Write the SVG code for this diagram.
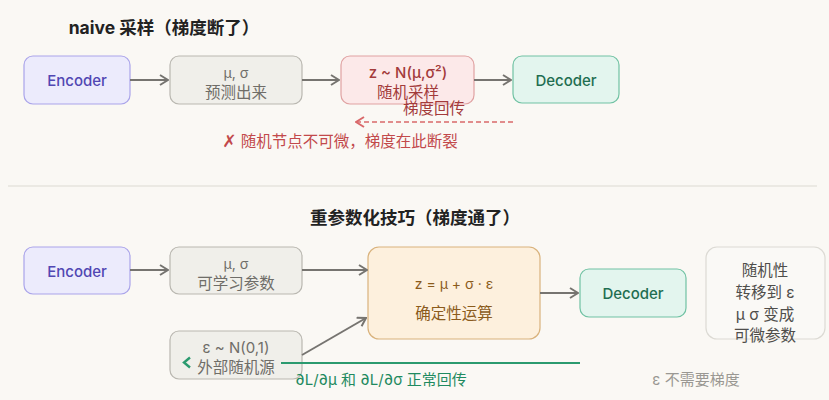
<svg xmlns="http://www.w3.org/2000/svg" width="829" height="400" viewBox="0 0 829 400">
<defs>
<style>
text{font-family:Inter,"Noto Sans CJK SC",sans-serif;font-size:15px;text-anchor:middle;dominant-baseline:central}
.cj{font-size:15.5px}
.title{font-size:17.5px;font-weight:700;fill:#222}
.enc rect{fill:#ecebfc;stroke:#aaa4ea;stroke-width:1.2}
.enc text{fill:#5147b3;font-weight:500}
.par rect{fill:#f0efea;stroke:#b9b7b0;stroke-width:1.2}
.par text{fill:#6f6d68}
.smp rect{fill:#fce9e9;stroke:#e0a2a2;stroke-width:1.2}
.smp text{fill:#a33b3b}
.dec rect{fill:#e3f5ee;stroke:#70c2a3;stroke-width:1.2}
.dec text{fill:#1f6e51;font-weight:500}
.det rect{fill:#fdf0dd;stroke:#d9b27c;stroke-width:1.2}
.det text{fill:#8b5b1c}
.note rect{fill:#faf9f6;stroke:#dcdad4;stroke-width:1.2}
.note text{fill:#4f4e4b;font-size:15.5px}
.arr{fill:none;stroke:#767470;stroke-width:2;marker-end:url(#ah)}
</style>
<marker id="ah" viewBox="0 0 10 12" refX="9" refY="6" markerWidth="10" markerHeight="12" markerUnits="userSpaceOnUse" orient="auto">
<path d="M1,1 L9,6 L1,11" fill="none" stroke="#767470" stroke-width="2"/>
</marker>
<marker id="ahr" viewBox="0 0 10 12" refX="9" refY="6" markerWidth="10" markerHeight="12" markerUnits="userSpaceOnUse" orient="auto">
<path d="M1,1 L9,6 L1,11" fill="none" stroke="#d9686a" stroke-width="2"/>
</marker>
</defs>
<rect width="829" height="400" fill="#faf8f4"/>

<text class="title" x="164" y="27">naive 采样（梯度断了）</text>
<line x1="8" y1="186" x2="817" y2="186" stroke="#ebe9e3" stroke-width="2"/>
<text class="title" x="415" y="217">重参数化技巧（梯度通了）</text>

<g id="enc1" class="enc"><rect x="24" y="56" width="106" height="48" rx="9"/><text x="77" y="80">Encoder</text></g>
<g id="par1" class="par"><rect x="170" y="56" width="132" height="48" rx="9"/><text x="236" y="72" style="font-size:14px">μ, σ</text><text class="cj" x="236" y="92">预测出来</text></g>
<g id="smp1" class="smp"><rect x="341" y="56" width="133" height="48" rx="9"/><text x="408" y="72" style="font-weight:500">z ~ N(μ,σ²)</text><text class="cj" x="408" y="92">随机采样</text></g>
<g id="dec1" class="dec"><rect x="513" y="56" width="106" height="47" rx="9"/><text x="566" y="80">Decoder</text></g>

<g id="enc2" class="enc"><rect x="24" y="247" width="106" height="47" rx="9"/><text x="77" y="271">Encoder</text></g>
<g id="par2" class="par"><rect x="170" y="247" width="132" height="47" rx="9"/><text x="236" y="263" style="font-size:14px">μ, σ</text><text class="cj" x="236" y="283">可学习参数</text></g>
<g id="eps" class="par"><rect x="170" y="331" width="132" height="48" rx="9"/><text x="236" y="347">ε ~ N(0,1)</text><text class="cj" x="236" y="367">外部随机源</text></g>
<g id="det" class="det"><rect x="368" y="247" width="172" height="92" rx="11"/><text x="454" y="283" style="font-size:14px">z = μ + σ · ε</text><text class="cj" x="454" y="313">确定性运算</text></g>
<g id="dec2" class="dec"><rect x="580" y="269" width="106" height="48" rx="9"/><text x="633" y="293">Decoder</text></g>
<g id="note" class="note"><rect x="706" y="247" width="119" height="92" rx="11"/><text x="765" y="270">随机性</text><text x="765" y="292">转移到 ε</text><text x="765" y="314">μ σ 变成</text><text x="765" y="335">可微参数</text></g>

<g id="connectors">
<path class="arr" d="M130,80 H168"/>
<path class="arr" d="M302,80 H339"/>
<path class="arr" d="M474,80 H511"/>
<path d="M513,122 H356" fill="none" stroke="#d9686a" stroke-width="1.6" stroke-dasharray="5,3" marker-end="url(#ahr)"/>
<path class="arr" d="M130,270 H168"/>
<path class="arr" d="M302,270 H367"/>
<path class="arr" d="M302,355 L366,318"/>
<path class="arr" d="M540,293 H578"/>
<path d="M580,363 H281" fill="none" stroke="#2b9a6f" stroke-width="2"/>
<path d="M190,357.5 L184,362.5 L190,367.5" fill="none" stroke="#2b9a6f" stroke-width="2.4"/>
</g>

<text class="cj" x="434" y="108" fill="#a33b3b">梯度回传</text>
<text class="cj" x="340" y="141" fill="#c2494b"><tspan style="font-family:'DejaVu Sans',sans-serif;font-size:17px">✗</tspan> 随机节点不可微，梯度在此断裂</text>
<text x="381" y="379" fill="#1f8a60">∂L/∂μ 和 ∂L/∂σ 正常回传</text>
<text x="696" y="379" fill="#9a9893">ε 不需要梯度</text>
</svg>
